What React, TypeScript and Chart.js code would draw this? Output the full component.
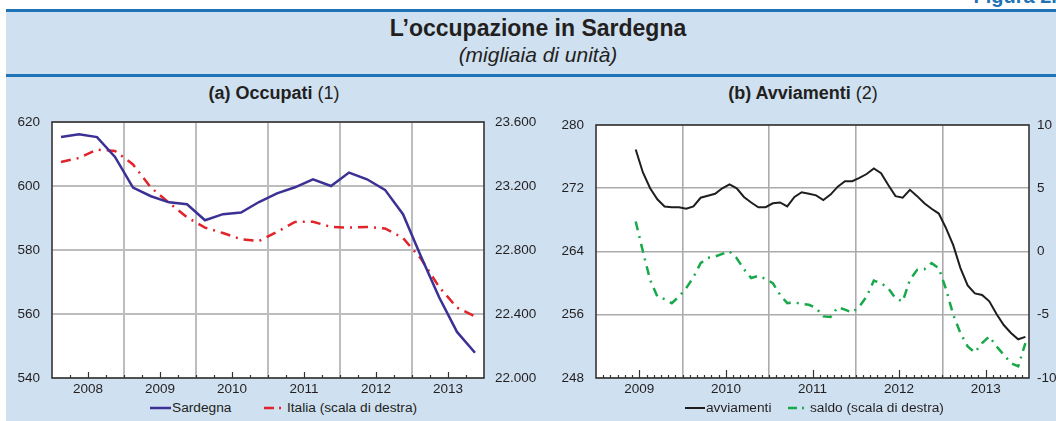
import React, { useEffect, useRef } from 'react';
import { Chart, registerables } from 'chart.js';
Chart.register(...registerables);

const FONT = '"Liberation Sans", Arial, Helvetica, sans-serif';
const TEXT = '#231f20';

// ---- Panel (a): quarterly, 2008-2013 ----
const yearsA = ['2008', '2009', '2010', '2011', '2012', '2013'];
const sardegna = [
  615.3, 616.2, 615.3, 609.1, 599.5, 596.8, 594.9, 594.3, 589.3, 591.2, 591.7, 595.0,
  597.7, 599.6, 602.1, 600.0, 604.2, 602.1, 598.8, 591.2, 578.0, 565.3, 554.4, 547.9,
];
const italia = [
  23350, 23375, 23427, 23419, 23335, 23190, 23095, 23005, 22940, 22906, 22867, 22856,
  22913, 22975, 22977, 22944, 22940, 22944, 22935, 22875, 22745, 22570, 22440, 22385,
];
const occMin = 540, occMax = 620, occStep = 20;
const itaMin = 22000, itaMax = 23600, itaStep = 400;

// ---- Panel (b): monthly, 2009-2013 ----
const yearsB = ['2009', '2010', '2011', '2012', '2013'];
const avviamenti = [
  null, null, null, null, null,
  276.9, 274.0, 272.0, 270.6, 269.7, 269.6, 269.6,
  269.4, 269.7, 270.8, 271.05, 271.3, 272.0, 272.5, 272.0, 270.9, 270.2, 269.6, 269.6,
  270.1, 270.2, 269.7, 270.9, 271.5, 271.3, 271.1, 270.5, 271.2, 272.2, 272.9, 272.9,
  273.3, 273.8, 274.5, 273.9, 272.4, 271.0, 270.8, 271.8, 271.0, 270.1, 269.4, 268.8,
  266.95, 264.8, 261.9, 259.7, 258.7, 258.5, 257.7, 256.1, 254.7, 253.7, 252.9, 253.2,
];
const saldo = [
  null, null, null, null, null,
  2.37, 0.0, -2.24, -3.56, -3.77, -4.08, -3.56,
  -2.9, -2.03, -0.92, -0.5, -0.4, -0.19, 0.0, -0.53, -1.4, -2.1, -1.92, -2.16,
  -2.5, -3.42, -4.08, -4.03, -4.13, -4.21, -4.47, -5.13, -5.18, -4.4, -4.6, -4.82,
  -4.35, -3.56, -2.3, -2.5, -2.9, -3.7, -3.95, -2.24, -1.45, -1.4, -0.92, -1.32,
  -2.97, -5.0, -6.45, -7.5, -7.98, -7.24, -6.71, -7.5, -8.16, -8.82, -9.08, -7.24,
];
const avvMin = 248, avvMax = 280, avvStep = 8;
const salMin = -10, salMax = 10, salStep = 5;

Chart.defaults.font.family = FONT;
Chart.defaults.color = TEXT;

const fmtThousands = (v: number) => {
  const t = Math.floor(v / 1000);
  const r = Math.round(v % 1000);
  return t + '.' + String(r).padStart(3, '0');
};

function framePlugin(perYear: number, longLen: number) {
  return {
    id: 'frameTicks',
    beforeDraw(chart: any) {
      const { ctx, chartArea: a } = chart;
      ctx.save();
      ctx.fillStyle = '#ffffff';
      ctx.fillRect(a.left, a.top, a.right - a.left, a.bottom - a.top);
      ctx.restore();
    },
    afterDraw(chart: any) {
      const { ctx, chartArea: a, scales } = chart;
      const xs = scales.x;
      ctx.save();
      ctx.strokeStyle = '#333333';
      ctx.lineWidth = 1.2;
      const n = xs.max;
      for (let v = 1; v < n; v++) {
        const px = Math.round(xs.getPixelForValue(v)) + 0.5;
        const len = v % perYear === perYear / 2 ? longLen : 3;
        ctx.beginPath();
        ctx.moveTo(px, a.bottom);
        ctx.lineTo(px, a.bottom - len);
        ctx.stroke();
      }
      ctx.lineWidth = 1.6;
      ctx.strokeStyle = '#353535';
      ctx.strokeRect(a.left, a.top, a.right - a.left, a.bottom - a.top);
      ctx.restore();
    },
  };
}

function configA(): any {
  const n = sardegna.length;
  return {
    type: 'line',
    data: {
      datasets: [
        {
          label: 'Sardegna',
          data: sardegna.map((y, i) => ({ x: i + 0.5, y })),
          borderColor: '#3b3195',
          borderWidth: 2.5,
          pointRadius: 0,
          tension: 0,
          yAxisID: 'y',
        },
        {
          label: 'Italia (scala di destra)',
          data: italia.map((y, i) => ({ x: i + 0.5, y })),
          borderColor: '#e2232a',
          borderWidth: 2.5,
          borderDash: [10, 6, 2, 6],
          pointRadius: 0,
          tension: 0,
          yAxisID: 'y1',
        },
      ],
    },
    options: {
      responsive: false,
      animation: false,
      devicePixelRatio: 1,
      events: [],
      layout: { padding: { top: 22, left: 0, right: 0, bottom: 0 } },
      plugins: { legend: { display: false }, tooltip: { enabled: false } },
      scales: {
        x: {
          type: 'linear',
          min: 0,
          max: n,
          afterBuildTicks: (s: any) => {
            s.ticks = Array.from({ length: n + 1 }, (_, i) => ({ value: i }));
          },
          afterFit: (s: any) => { s.height = 22; },
          ticks: {
            autoSkip: false,
            maxRotation: 0,
            padding: 3,
            font: { size: 13.5 },
            color: TEXT,
            callback: (v: number) => (v % 4 === 2 ? yearsA[(v - 2) / 4] : ''),
          },
          grid: {
            drawTicks: false,
            lineWidth: 2,
            color: (c: any) =>
              c.tick && c.tick.value % 4 === 0 && c.tick.value > 0 && c.tick.value < n
                ? '#bdbdbd'
                : 'rgba(0,0,0,0)',
          },
          border: { display: false },
        },
        y: {
          position: 'left',
          min: occMin,
          max: occMax,
          afterFit: (s: any) => { s.width = 52; },
          ticks: { stepSize: occStep, padding: 12, font: { size: 13.5 }, color: TEXT },
          grid: { drawTicks: false, lineWidth: 2, color: '#bdbdbd' },
          border: { display: false },
        },
        y1: {
          position: 'right',
          min: itaMin,
          max: itaMax,
          afterFit: (s: any) => { s.width = 61; },
          ticks: {
            stepSize: itaStep,
            padding: 11,
            font: { size: 13.5 },
            color: TEXT,
            callback: (v: number) => fmtThousands(v),
          },
          grid: { display: false, drawTicks: false },
          border: { display: false },
        },
      },
    },
    plugins: [framePlugin(4, 6)],
  };
}

function configB(): any {
  const n = avviamenti.length;
  return {
    type: 'line',
    data: {
      datasets: [
        {
          label: 'avviamenti',
          data: avviamenti.map((y, i) => ({ x: i + 0.5, y })),
          borderColor: '#1e1e1e',
          borderWidth: 2,
          pointRadius: 0,
          tension: 0,
          yAxisID: 'y',
        },
        {
          label: 'saldo (scala di destra)',
          data: saldo.map((y, i) => ({ x: i + 0.5, y })),
          borderColor: '#17a94a',
          borderWidth: 2.5,
          borderDash: [9, 6, 2, 6],
          pointRadius: 0,
          tension: 0,
          yAxisID: 'y1',
        },
      ],
    },
    options: {
      responsive: false,
      animation: false,
      devicePixelRatio: 1,
      events: [],
      layout: { padding: { top: 25, left: 0, right: 0, bottom: 0 } },
      plugins: { legend: { display: false }, tooltip: { enabled: false } },
      scales: {
        x: {
          type: 'linear',
          min: 0,
          max: n,
          afterBuildTicks: (s: any) => {
            s.ticks = Array.from({ length: n + 1 }, (_, i) => ({ value: i }));
          },
          afterFit: (s: any) => { s.height = 22; },
          ticks: {
            autoSkip: false,
            maxRotation: 0,
            padding: 3,
            font: { size: 13.5 },
            color: TEXT,
            callback: (v: number) => (v % 12 === 6 ? yearsB[(v - 6) / 12] : ''),
          },
          grid: {
            drawTicks: false,
            lineWidth: 1.6,
            color: (c: any) =>
              c.tick && c.tick.value % 12 === 0 && c.tick.value > 0 && c.tick.value < n
                ? '#ababab'
                : 'rgba(0,0,0,0)',
          },
          border: { display: false },
        },
        y: {
          position: 'left',
          min: avvMin,
          max: avvMax,
          afterFit: (s: any) => { s.width = 70; },
          ticks: { stepSize: avvStep, padding: 12, font: { size: 13.5 }, color: TEXT },
          grid: { drawTicks: false, lineWidth: 1.6, color: '#ababab' },
          border: { display: false },
        },
        y1: {
          position: 'right',
          min: salMin,
          max: salMax,
          afterFit: (s: any) => { s.width = 27; },
          ticks: { stepSize: salStep, padding: 8, font: { size: 13.5 }, color: TEXT },
          grid: { display: false, drawTicks: false },
          border: { display: false },
        },
      },
    },
    plugins: [framePlugin(12, 8)],
  };
}

function ChartCanvas(props: { make: () => any; left: number; top: number; width: number; height: number }) {
  const ref = useRef<HTMLCanvasElement>(null);
  useEffect(() => {
    const chart = new Chart(ref.current as HTMLCanvasElement, props.make());
    return () => chart.destroy();
  }, []);
  return (
    <canvas
      ref={ref}
      width={props.width}
      height={props.height}
      style={{ position: 'absolute', left: props.left, top: props.top, width: props.width, height: props.height }}
    />
  );
}

function Sample(props: { left: number; top: number; width: number; color: string; dash?: string; w: number }) {
  return (
    <svg
      width={props.width}
      height={6}
      style={{ position: 'absolute', left: props.left, top: props.top - 3, overflow: 'visible' }}
    >
      <line
        x1={0}
        y1={3}
        x2={props.width}
        y2={3}
        stroke={props.color}
        strokeWidth={props.w}
        strokeDasharray={props.dash}
      />
    </svg>
  );
}

const abs = (s: any): React.CSSProperties => ({ position: 'absolute', whiteSpace: 'nowrap', ...s });

export default function App() {
  const legendText: React.CSSProperties = { fontSize: 13.7, lineHeight: '16px', color: TEXT };
  return (
    <div
      style={{
        position: 'fixed',
        left: 0,
        top: 0,
        width: 1056,
        height: 421,
        background: '#ffffff',
        overflow: 'hidden',
        fontFamily: FONT,
        color: TEXT,
      }}
    >
      <div style={abs({ right: -12, top: -14, fontSize: 20, lineHeight: '20px', fontWeight: 'bold', color: '#1f73b7' })}>
        Figura 2.1
      </div>
      <div style={abs({ left: 6, top: 9, right: 0, bottom: 0, background: '#cfe0f1' })} />
      <div style={abs({ left: 6, top: 9, right: 0, height: 3, background: '#1f73b7' })} />
      <div style={abs({ left: 6, top: 74, right: 0, height: 3, background: '#1f73b7' })} />
      <div
        style={abs({ left: 288, width: 500, top: 17, textAlign: 'center', fontSize: 23, lineHeight: '23px', fontWeight: 'bold' })}
      >
        L’occupazione in Sardegna
      </div>
      <div
        style={abs({ left: 288, width: 500, top: 44, textAlign: 'center', fontSize: 21, lineHeight: '21px', fontStyle: 'italic' })}
      >
        (migliaia di unità)
      </div>

      <div style={abs({ left: 74, width: 400, top: 84, textAlign: 'center', fontSize: 18, lineHeight: '18px' })}>
        <b>(a) Occupati</b> (1)
      </div>
      <div style={abs({ left: 603, width: 400, top: 84, textAlign: 'center', fontSize: 18, lineHeight: '18px' })}>
        <b>(b) Avviamenti</b> (2)
      </div>

      <ChartCanvas make={configA} left={0} top={100} width={545} height={300} />
      <ChartCanvas make={configB} left={526} top={100} width={530} height={300} />

      <Sample left={150} top={408} width={21} color="#3b3195" w={2.5} />
      <div style={abs({ ...legendText, left: 172, top: 400 })}>Sardegna</div>
      <Sample left={264} top={408} width={19} color="#e2232a" w={2.5} dash="10 5 2 5" />
      <div style={abs({ ...legendText, left: 287, top: 400 })}>Italia (scala di destra)</div>

      <Sample left={685} top={408} width={20} color="#1e1e1e" w={2} />
      <div style={abs({ ...legendText, left: 706, top: 400 })}>avviamenti</div>
      <Sample left={788} top={408} width={19} color="#17a94a" w={2.5} dash="9 5 2 5" />
      <div style={abs({ ...legendText, left: 810, top: 400 })}>saldo (scala di destra)</div>
    </div>
  );
}
